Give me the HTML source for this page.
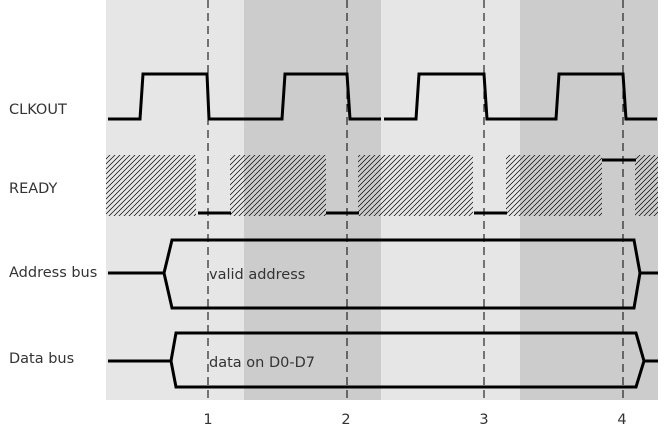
<!DOCTYPE html>
<html><head><style>body{margin:0;background:#fff}svg{display:block}</style></head><body>
<svg width="667" height="433" viewBox="0 0 667 433" xmlns="http://www.w3.org/2000/svg" font-family="DejaVu Sans, sans-serif">
<defs>
<pattern id="h" width="5" height="5" patternUnits="userSpaceOnUse">
<path d="M-1,1 l2,-2 M0,5 l5,-5 M4,6 l2,-2" stroke="#000" stroke-width="0.7"/>
</pattern>
</defs>
<rect x="106" y="0" width="552" height="400" fill="#e6e6e6"/>
<rect x="244" y="0" width="137" height="400" fill="#cccccc"/>
<rect x="520" y="0" width="138" height="400" fill="#cccccc"/>
<g fill="url(#h)">
<rect x="106" y="155" width="90" height="61"/>
<rect x="230" y="155" width="96" height="61"/>
<rect x="358" y="155" width="115" height="61"/>
<rect x="506" y="155" width="96" height="61"/>
<rect x="635" y="155" width="23" height="61"/>
</g>
<g stroke="#000" stroke-width="1" stroke-dasharray="8,5">
<line x1="208" y1="0" x2="208" y2="400"/><line x1="347" y1="0" x2="347" y2="400"/>
<line x1="484" y1="0" x2="484" y2="400"/><line x1="623" y1="0" x2="623" y2="400"/>
</g>
<g stroke="#000" stroke-width="3" fill="none">
<polyline points="108,119 140,119 143,74 207,74 209,119 282,119 285,74 347,74 350,119 381,119"/>
<polyline points="384,119 416,119 419,74 484,74 487,119 556,119 559,74 623,74 626,119 657,119"/>
<line x1="198" y1="213" x2="231" y2="213"/><line x1="326" y1="213" x2="359" y2="213"/>
<line x1="474" y1="213" x2="507" y2="213"/><line x1="602" y1="160" x2="636" y2="160"/>
<polygon points="164,273 172,240 634,240 640,273 634,308 172,308"/>
<line x1="108" y1="273" x2="164" y2="273"/><line x1="640" y1="273" x2="658" y2="273"/>
<polygon points="171,361 176,333 636,333 644,361 636,387 176,387"/>
<line x1="108" y1="361" x2="171" y2="361"/><line x1="644" y1="361" x2="658" y2="361"/>
</g>
<g font-size="14.5" fill="#333">
<text x="9" y="114">CLKOUT</text>
<text x="9" y="193">READY</text>
<text x="9" y="277">Address bus</text>
<text x="9" y="363">Data bus</text>
<text x="209" y="279">valid address</text>
<text x="209" y="367">data on D0-D7</text>
<text x="208" y="424" text-anchor="middle">1</text>
<text x="346" y="424" text-anchor="middle">2</text>
<text x="484" y="424" text-anchor="middle">3</text>
<text x="622" y="424" text-anchor="middle">4</text>
</g>
</svg>
</body></html>
